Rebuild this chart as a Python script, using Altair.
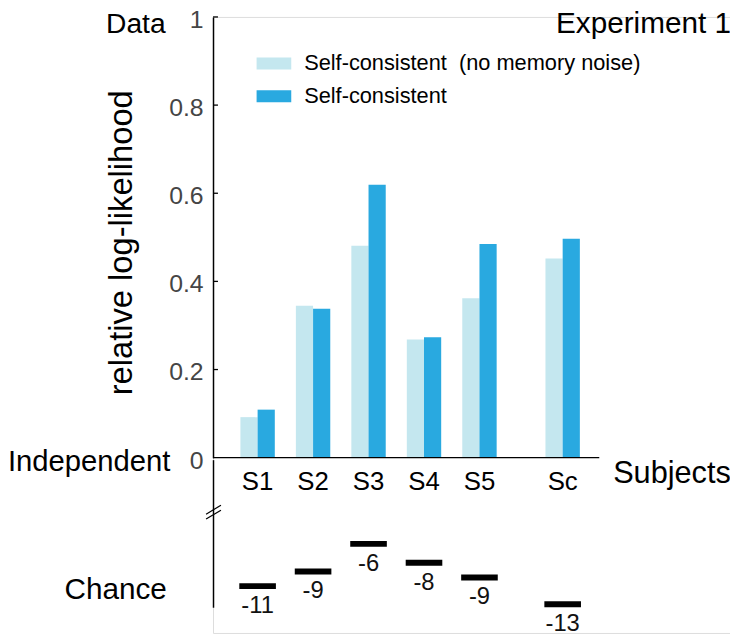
import altair as alt
import pandas as pd

# ---------------- data ----------------
subjects = ["S1", "S2", "S3", "S4", "S5", "Sc"]
positions = [1, 2, 3, 4, 5, 6.5]
no_memory_noise = [0.092, 0.345, 0.481, 0.268, 0.362, 0.452]
self_consistent = [0.109, 0.338, 0.619, 0.273, 0.485, 0.497]
chance_values = [-10.9, -9.2, -6.0, -8.2, -9.9, -13.0]
chance_labels = ["-11", "-9", "-6", "-8", "-9", "-13"]
y_ticks = [0, 0.2, 0.4, 0.6, 0.8, 1]
series_names = ["Self-consistent \u00a0(no memory noise)", "Self-consistent"]
series_colors = ["#c4e7ef", "#29a9e0"]

FONT = "Liberation Sans"
W, H = 522, 622

rows = []
for s, p, a, b in zip(subjects, positions, no_memory_noise, self_consistent):
    rows.append({"subject": s, "pos": p, "k": 0, "series": series_names[0], "value": a})
    rows.append({"subject": s, "pos": p, "k": 1, "series": series_names[1], "value": b})
bars_df = pd.DataFrame(rows)

subj_df = pd.DataFrame({"subject": subjects, "pos": positions})
chance_df = pd.DataFrame({"subject": subjects, "pos": positions,
                          "chance": chance_values, "label": chance_labels})
ticks_df = pd.DataFrame({"t": [v for v in y_ticks if v > 0]})

x_scale = alt.Scale(domain=[0.196, 7.16], range=[0, 390], nice=False, zero=False)
y_scale = alt.Scale(domain=[0, 1], range=[445, 0], nice=False, zero=False)
chance_scale = alt.Scale(domain=[-13.344, 3.754], range=[596, 447], nice=False, zero=False)

y_axis = alt.Axis(values=y_ticks, format="~g", orient="left", ticks=False, tickSize=0,
                  labelPadding=10, labelOffset=2.5, labelFontSize=25, labelColor="#454545",
                  domainColor="black", domainWidth=1.5, grid=False, title=None, labelFont=FONT)
chance_axis = alt.Axis(orient="left", labels=False, ticks=False, grid=False, title=None,
                       domainColor="black", domainWidth=1.5, values=[])

bars = alt.Chart(bars_df).transform_calculate(
    x0="datum.pos + datum.k * 0.31 - 0.31", x1="datum.pos + datum.k * 0.31",
    base="0"
).mark_bar().encode(
    x=alt.X("x0:Q", scale=x_scale, axis=None),
    x2="x1:Q",
    y=alt.Y("value:Q", scale=y_scale, axis=y_axis, stack=None),
    y2="base:Q",
    color=alt.Color("series:N", scale=alt.Scale(domain=series_names, range=series_colors),
                    legend=alt.Legend(orient="none", legendX=50.5, legendY=36, title=None,
                                      symbolType="M-1.75,-0.6H1.75V0.6H-1.75Z",
                                      symbolSize=400, symbolStrokeWidth=0, labelFontSize=22,
                                      labelFont=FONT, labelColor="black", labelOffset=19.5,
                                      rowPadding=11, padding=0, symbolOpacity=1,
                                      labelLimit=500)),
)

inward_ticks = alt.Chart(ticks_df).mark_rule(color="black", strokeWidth=1.3).encode(
    x=alt.value(0), x2=alt.value(5),
    y=alt.Y("t:Q", scale=y_scale, axis=y_axis),
)

# x axis line (at y = 0) and subject labels
x_base = alt.Chart(subj_df).transform_calculate(zero="0")
x_line = x_base.transform_filter("datum.subject == 'S1'").mark_rule(
    color="black", strokeWidth=1.3
).encode(
    x=alt.value(0), x2=alt.value(390),
    y=alt.Y("zero:Q", scale=y_scale, axis=y_axis),
)
x_labels = x_base.mark_text(
    fontSize=26, font=FONT, color="black", baseline="middle", dy=25
).encode(
    x=alt.X("pos:Q", scale=x_scale, axis=None),
    y=alt.Y("zero:Q", scale=y_scale, axis=y_axis),
    text="subject:N",
)

top_layer = alt.layer(bars, inward_ticks, x_line, x_labels)

chance_base = alt.Chart(chance_df).transform_calculate(
    xa="datum.pos - 0.33", xb="datum.pos + 0.33"
)
chance_rules = chance_base.mark_rule(color="black", strokeWidth=6, strokeCap="butt").encode(
    x=alt.X("xa:Q", scale=x_scale, axis=None),
    x2="xb:Q",
    y=alt.Y("chance:Q", scale=chance_scale, axis=chance_axis),
)
chance_text = alt.Chart(chance_df).mark_text(
    fontSize=24, font=FONT, color="#111", baseline="middle", dy=20
).encode(
    x=alt.X("pos:Q", scale=x_scale, axis=None),
    y=alt.Y("chance:Q", scale=chance_scale, axis=chance_axis),
    text="label:N",
)
bottom_layer = alt.layer(chance_rules, chance_text)

one = pd.DataFrame({"a": [0]})


def note(txt, x, y, size, align="left", angle=0):
    return alt.Chart(one).mark_text(
        text=txt, font=FONT, fontSize=size, color="black", align=align,
        baseline="alphabetic", angle=angle
    ).encode(x=alt.value(x), y=alt.value(y))


notes = [
    note("Data", -108, 16, 28.5),
    note("Independent", -207, 458, 29.5),
    note("Chance", -150, 588, 30),
    note("Subjects", 404, 471, 31),
    note("Experiment 1", 523, 16, 30, align="right"),
    note("relative log-likelihood", -82, 228, 33, align="center", angle=270),
]

slashes = [
    alt.Chart(one).mark_rule(color="black", strokeWidth=1.2).encode(
        x=alt.value(-7), x2=alt.value(8), y=alt.value(502), y2=alt.value(493)),
    alt.Chart(one).mark_rule(color="black", strokeWidth=1.2).encode(
        x=alt.value(-7), x2=alt.value(8), y=alt.value(507), y2=alt.value(498)),
]

chart = alt.layer(top_layer, bottom_layer, *notes, *slashes).resolve_scale(
    y="independent"
).properties(
    width=W, height=H,
    autosize=alt.AutoSizeParams(type="none"),
    padding={"left": 207, "top": 6, "right": 0, "bottom": 0},
).configure_view(stroke=None).configure(font=FONT)

chart.save("out.html", embed_options={"renderer": "svg", "actions": False})
